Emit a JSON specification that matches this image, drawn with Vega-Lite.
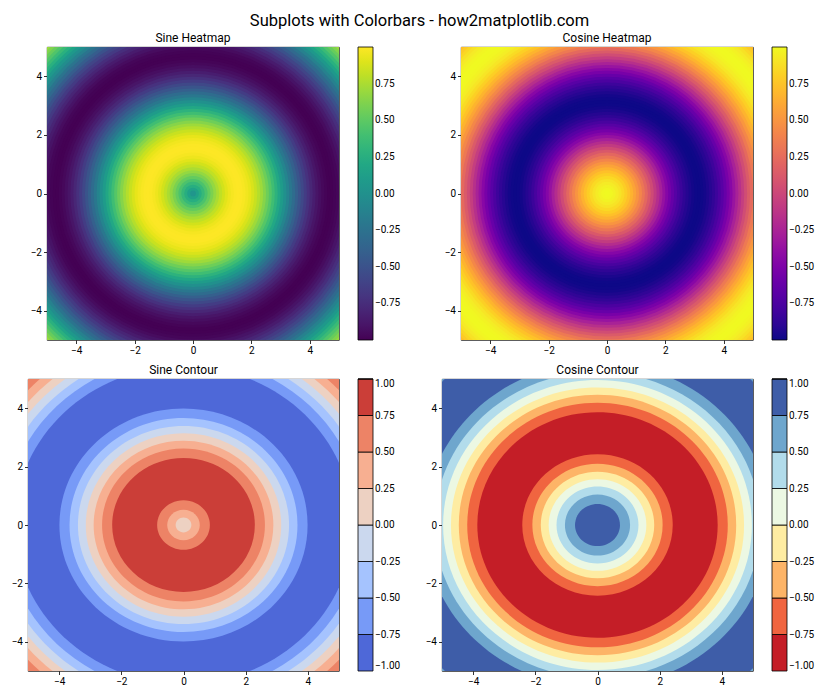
{
  "$schema": "https://vega.github.io/schema/vega-lite/v6.json",
  "padding": {"left": 7, "top": 13, "right": 5, "bottom": 5},
  "background": "white",
  "title": {"text": "Subplots with Colorbars - how2matplotlib.com", "fontSize": 16.5, "fontWeight": "normal", "font": "Roboto", "color": "black", "anchor": "middle", "baseline": "alphabetic", "offset": -11, "dx": 8},
  "config": {
    "font": "Roboto",
    "view": {"stroke": "black", "strokeWidth": 0.8},
    "axis": {"grid": false, "domain": false, "tickColor": "black", "tickSize": 3.5, "tickWidth": 0.8, "labelFontSize": 10, "labelColor": "black", "labelPadding": 2, "labelFont": "Roboto"},
    "legend": {"labelFont": "Roboto", "labelFontSize": 10, "labelColor": "black", "offset": 19, "padding": 0, "gradientThickness": 15, "labelOffset": 6, "gradientStrokeColor": "black", "gradientStrokeWidth": 0.8},
    "title": {"fontSize": 12, "fontWeight": "normal", "font": "Roboto", "color": "black", "baseline": "alphabetic", "offset": 2}
  },
  "datasets": {
    "radial": [
      {"r": 7.1, "s": 0.694, "c": 0.720},
      {"r": 7.0, "s": 0.619, "c": 0.786},
      {"r": 6.9, "s": 0.537, "c": 0.844},
      {"r": 6.8, "s": 0.450, "c": 0.893},
      {"r": 6.7, "s": 0.359, "c": 0.934},
      {"r": 6.6, "s": 0.264, "c": 0.965},
      {"r": 6.5, "s": 0.166, "c": 0.986},
      {"r": 6.4, "s": 0.067, "c": 0.998},
      {"r": 6.3, "s": -0.033, "c": 0.999},
      {"r": 6.2, "s": -0.133, "c": 0.991},
      {"r": 6.1, "s": -0.231, "c": 0.973},
      {"r": 6.0, "s": -0.327, "c": 0.945},
      {"r": 5.9, "s": -0.420, "c": 0.908},
      {"r": 5.8, "s": -0.508, "c": 0.861},
      {"r": 5.7, "s": -0.592, "c": 0.806},
      {"r": 5.6, "s": -0.669, "c": 0.743},
      {"r": 5.5, "s": -0.740, "c": 0.673},
      {"r": 5.4, "s": -0.803, "c": 0.596},
      {"r": 5.3, "s": -0.859, "c": 0.512},
      {"r": 5.2, "s": -0.906, "c": 0.423},
      {"r": 5.1, "s": -0.944, "c": 0.331},
      {"r": 5.0, "s": -0.972, "c": 0.236},
      {"r": 4.9, "s": -0.990, "c": 0.137},
      {"r": 4.8, "s": -0.999, "c": 0.038},
      {"r": 4.7, "s": -0.998, "c": -0.062},
      {"r": 4.6, "s": -0.987, "c": -0.162},
      {"r": 4.5, "s": -0.966, "c": -0.260},
      {"r": 4.4, "s": -0.935, "c": -0.355},
      {"r": 4.3, "s": -0.895, "c": -0.446},
      {"r": 4.2, "s": -0.846, "c": -0.534},
      {"r": 4.1, "s": -0.789, "c": -0.615},
      {"r": 4.0, "s": -0.723, "c": -0.691},
      {"r": 3.9, "s": -0.651, "c": -0.759},
      {"r": 3.8, "s": -0.572, "c": -0.821},
      {"r": 3.7, "s": -0.487, "c": -0.874},
      {"r": 3.6, "s": -0.397, "c": -0.918},
      {"r": 3.5, "s": -0.304, "c": -0.953},
      {"r": 3.4, "s": -0.207, "c": -0.978},
      {"r": 3.3, "s": -0.108, "c": -0.994},
      {"r": 3.2, "s": -0.008, "c": -1.000},
      {"r": 3.1, "s": 0.092, "c": -0.996},
      {"r": 3.0, "s": 0.190, "c": -0.982},
      {"r": 2.9, "s": 0.288, "c": -0.958},
      {"r": 2.8, "s": 0.382, "c": -0.924},
      {"r": 2.7, "s": 0.472, "c": -0.882},
      {"r": 2.6, "s": 0.558, "c": -0.830},
      {"r": 2.5, "s": 0.638, "c": -0.770},
      {"r": 2.4, "s": 0.712, "c": -0.703},
      {"r": 2.3, "s": 0.778, "c": -0.628},
      {"r": 2.2, "s": 0.837, "c": -0.548},
      {"r": 2.1, "s": 0.887, "c": -0.461},
      {"r": 2.0, "s": 0.929, "c": -0.370},
      {"r": 1.9, "s": 0.961, "c": -0.276},
      {"r": 1.8, "s": 0.984, "c": -0.178},
      {"r": 1.7, "s": 0.997, "c": -0.079},
      {"r": 1.6, "s": 1.000, "c": 0.021},
      {"r": 1.5, "s": 0.993, "c": 0.121},
      {"r": 1.4, "s": 0.976, "c": 0.219},
      {"r": 1.3, "s": 0.949, "c": 0.315},
      {"r": 1.2, "s": 0.913, "c": 0.409},
      {"r": 1.1, "s": 0.867, "c": 0.498},
      {"r": 1.0, "s": 0.813, "c": 0.582},
      {"r": 0.9, "s": 0.751, "c": 0.660},
      {"r": 0.8, "s": 0.682, "c": 0.732},
      {"r": 0.7, "s": 0.605, "c": 0.796},
      {"r": 0.6, "s": 0.523, "c": 0.853},
      {"r": 0.5, "s": 0.435, "c": 0.900},
      {"r": 0.4, "s": 0.343, "c": 0.939},
      {"r": 0.3, "s": 0.247, "c": 0.969},
      {"r": 0.2, "s": 0.149, "c": 0.989},
      {"r": 0.1, "s": 0.050, "c": 0.999}
    ],
    "sineRings": [
      {"r": 7.5, "v": 0.625},
      {"r": 6.8068, "v": 0.375},
      {"r": 6.5359, "v": 0.125},
      {"r": 6.2832, "v": -0.125},
      {"r": 6.0305, "v": -0.375},
      {"r": 5.7596, "v": -0.625},
      {"r": 5.4351, "v": -0.875},
      {"r": 3.9897, "v": -0.625},
      {"r": 3.6652, "v": -0.375},
      {"r": 3.3943, "v": -0.125},
      {"r": 3.1416, "v": 0.125},
      {"r": 2.8889, "v": 0.375},
      {"r": 2.618, "v": 0.625},
      {"r": 2.2935, "v": 0.875},
      {"r": 0.8481, "v": 0.625},
      {"r": 0.5236, "v": 0.375},
      {"r": 0.2527, "v": 0.125}
    ],
    "cosRings": [
      {"r": 7.5, "v": 0.625},
      {"r": 7.0059, "v": 0.875},
      {"r": 5.5605, "v": 0.625},
      {"r": 5.236, "v": 0.375},
      {"r": 4.9651, "v": 0.125},
      {"r": 4.7124, "v": -0.125},
      {"r": 4.4597, "v": -0.375},
      {"r": 4.1888, "v": -0.625},
      {"r": 3.8643, "v": -0.875},
      {"r": 2.4189, "v": -0.625},
      {"r": 2.0944, "v": -0.375},
      {"r": 1.8235, "v": -0.125},
      {"r": 1.5708, "v": 0.125},
      {"r": 1.3181, "v": 0.375},
      {"r": 1.0472, "v": 0.625},
      {"r": 0.7227, "v": 0.875}
    ]
  },
  "vconcat": [
    {
      "hconcat": [
        {
          "width": 19, "height": 10,
          "data": {"values": [{}]},
          "mark": {"type": "point", "opacity": 0},
          "encoding": {},
          "view": {"stroke": null}
        },
        {
          "hconcat": [
            {
              "width": 292, "height": 293,
              "title": "Sine Heatmap",
              "data": {"name": "radial"},
              "mark": {"type": "point", "shape": "circle", "filled": true, "opacity": 1, "strokeWidth": 0, "clip": true},
              "encoding": {
                "x": {"datum": 0, "type": "quantitative", "scale": {"domain": [-5, 5], "nice": false, "zero": false}, "axis": {"values": [-4, -2, 0, 2, 4], "title": null, "minExtent": 20, "maxExtent": 20}},
                "y": {"datum": 0, "type": "quantitative", "scale": {"domain": [-5, 5], "nice": false, "zero": false}, "axis": {"values": [-4, -2, 0, 2, 4], "title": null, "minExtent": 39, "maxExtent": 39}},
                "size": {"field": "r", "type": "quantitative", "scale": {"type": "pow", "exponent": 2, "domain": [0, 8], "range": [0, 218279], "nice": false}, "legend": null},
                "color": {"field": "s", "type": "quantitative", "scale": {"scheme": "viridis", "domain": [-1, 1]}, "legend": {"title": null, "gradientLength": 293, "values": [-0.75, -0.5, -0.25, 0, 0.25, 0.5, 0.75], "format": ".2f"}}
              }
            },
            {
              "width": 292, "height": 293,
              "title": "Cosine Heatmap",
              "data": {"name": "radial"},
              "mark": {"type": "point", "shape": "circle", "filled": true, "opacity": 1, "strokeWidth": 0, "clip": true},
              "encoding": {
                "x": {"datum": 0, "type": "quantitative", "scale": {"domain": [-5, 5], "nice": false, "zero": false}, "axis": {"values": [-4, -2, 0, 2, 4], "title": null, "minExtent": 20, "maxExtent": 20}},
                "y": {"datum": 0, "type": "quantitative", "scale": {"domain": [-5, 5], "nice": false, "zero": false}, "axis": {"values": [-4, -2, 0, 2, 4], "title": null, "minExtent": 39, "maxExtent": 39}},
                "size": {"field": "r", "type": "quantitative", "scale": {"type": "pow", "exponent": 2, "domain": [0, 8], "range": [0, 218279], "nice": false}, "legend": null},
                "color": {"field": "c", "type": "quantitative", "scale": {"scheme": "plasma", "domain": [-1, 1]}, "legend": {"title": null, "gradientLength": 293, "values": [-0.75, -0.5, -0.25, 0, 0.25, 0.5, 0.75], "format": ".2f"}}
              }
            }
          ],
          "spacing": 122,
          "bounds": "flush",
          "resolve": {"scale": {"color": "independent", "size": "independent"}}
        }
      ],
      "spacing": 0,
      "bounds": "flush",
      "resolve": {"scale": {"color": "independent", "size": "independent"}}
    },
    {
      "hconcat": [
        {
          "width": 311, "height": 292,
          "title": "Sine Contour",
          "data": {"name": "sineRings"},
          "mark": {"type": "point", "shape": "M1,0C1,0.5186,0.5523,0.9389,0,0.9389C-0.5523,0.9389,-1,0.5186,-1,0C-1,-0.5186,-0.5523,-0.9389,0,-0.9389C0.5523,-0.9389,1,-0.5186,1,0Z", "filled": true, "opacity": 1, "strokeWidth": 0, "clip": true},
          "encoding": {
            "x": {"datum": 0, "type": "quantitative", "scale": {"domain": [-5, 5], "nice": false, "zero": false}, "axis": {"values": [-4, -2, 0, 2, 4], "title": null, "minExtent": 20, "maxExtent": 20}},
            "y": {"datum": 0, "type": "quantitative", "scale": {"domain": [-5, 5], "nice": false, "zero": false}, "axis": {"values": [-4, -2, 0, 2, 4], "title": null, "minExtent": 20, "maxExtent": 20}},
            "size": {"field": "r", "type": "quantitative", "scale": {"type": "pow", "exponent": 2, "domain": [0, 8], "range": [0, 247604], "nice": false}, "legend": null},
            "color": {"field": "v", "type": "quantitative", "scale": {"type": "threshold", "domain": [-0.75, -0.5, -0.25, 0, 0.25, 0.5, 0.75], "range": ["#4E68D8", "#779AF7", "#A5C3FE", "#CBD8EE", "#EDD1C2", "#F7AF91", "#ED8366", "#CB3E38"]}, "legend": {"type": "gradient", "title": null, "gradientLength": 292, "values": [-1, -0.75, -0.5, -0.25, 0, 0.25, 0.5, 0.75, 1], "labelExpr": "format(datum.value, '.2f')", "encode": {"labels": {"update": {"baseline": {"value": "middle"}}}}}}
          }
        },
        {
          "width": 311, "height": 292,
          "title": "Cosine Contour",
          "data": {"name": "cosRings"},
          "mark": {"type": "point", "shape": "M1,0C1,0.5186,0.5523,0.9389,0,0.9389C-0.5523,0.9389,-1,0.5186,-1,0C-1,-0.5186,-0.5523,-0.9389,0,-0.9389C0.5523,-0.9389,1,-0.5186,1,0Z", "filled": true, "opacity": 1, "strokeWidth": 0, "clip": true},
          "encoding": {
            "x": {"datum": 0, "type": "quantitative", "scale": {"domain": [-5, 5], "nice": false, "zero": false}, "axis": {"values": [-4, -2, 0, 2, 4], "title": null, "minExtent": 20, "maxExtent": 20}},
            "y": {"datum": 0, "type": "quantitative", "scale": {"domain": [-5, 5], "nice": false, "zero": false}, "axis": {"values": [-4, -2, 0, 2, 4], "title": null, "minExtent": 20, "maxExtent": 20}},
            "size": {"field": "r", "type": "quantitative", "scale": {"type": "pow", "exponent": 2, "domain": [0, 8], "range": [0, 247604], "nice": false}, "legend": null},
            "color": {"field": "v", "type": "quantitative", "scale": {"type": "threshold", "domain": [-0.75, -0.5, -0.25, 0, 0.25, 0.5, 0.75], "range": ["#C41E27", "#F06540", "#FDB467", "#FEECA2", "#ECF8E3", "#B2DCEB", "#6EA6CD", "#3E5DA8"]}, "legend": {"type": "gradient", "title": null, "gradientLength": 292, "values": [-1, -0.75, -0.5, -0.25, 0, 0.25, 0.5, 0.75, 1], "labelExpr": "format(datum.value, '.2f')", "encode": {"labels": {"update": {"baseline": {"value": "middle"}}}}}}
          }
        }
      ],
      "spacing": 103,
      "bounds": "flush",
      "resolve": {"scale": {"color": "independent", "size": "independent"}}
    }
  ],
  "spacing": 2,
  "resolve": {"scale": {"color": "independent", "size": "independent"}}
}
